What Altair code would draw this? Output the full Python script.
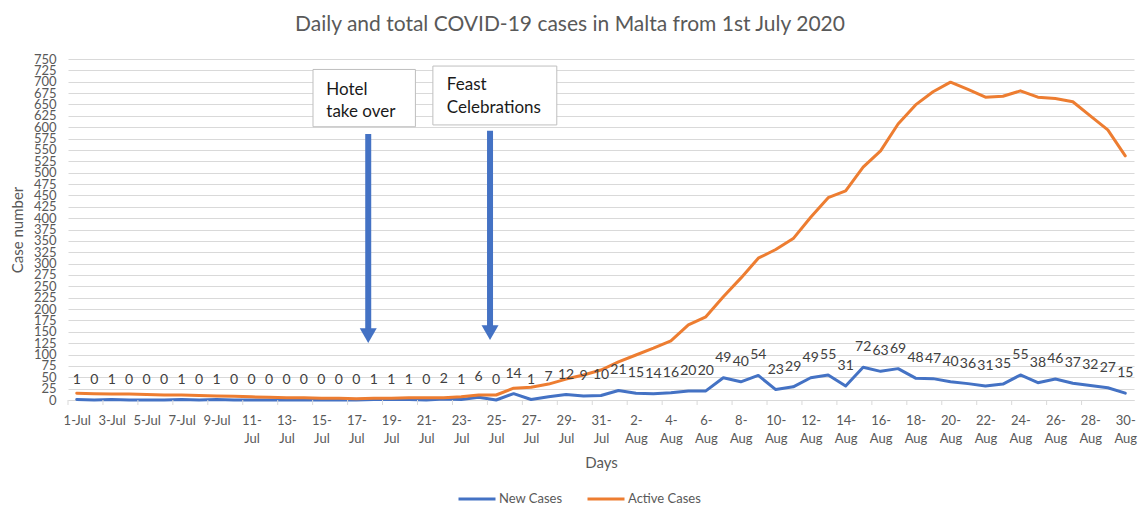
import json
import altair as alt
import pandas as pd

# ---------------- data ----------------
days = ["1-Jul", "2-Jul", "3-Jul", "4-Jul", "5-Jul", "6-Jul", "7-Jul", "8-Jul", "9-Jul", "10-Jul",
        "11-Jul", "12-Jul", "13-Jul", "14-Jul", "15-Jul", "16-Jul", "17-Jul", "18-Jul", "19-Jul", "20-Jul",
        "21-Jul", "22-Jul", "23-Jul", "24-Jul", "25-Jul", "26-Jul", "27-Jul", "28-Jul", "29-Jul", "30-Jul",
        "31-Jul",
        "1-Aug", "2-Aug", "3-Aug", "4-Aug", "5-Aug", "6-Aug", "7-Aug", "8-Aug", "9-Aug", "10-Aug",
        "11-Aug", "12-Aug", "13-Aug", "14-Aug", "15-Aug", "16-Aug", "17-Aug", "18-Aug", "19-Aug", "20-Aug",
        "21-Aug", "22-Aug", "23-Aug", "24-Aug", "25-Aug", "26-Aug", "27-Aug", "28-Aug", "29-Aug", "30-Aug"]

new_cases = [1, 0, 1, 0, 0, 0, 1, 0, 1, 0,
             0, 0, 0, 0, 0, 0, 0, 1, 1, 1,
             0, 2, 1, 6, 0, 14, 1, 7, 12, 9,
             10,
             21, 15, 14, 16, 20, 20, 49, 40, 54,
             23, 29, 49, 55, 31, 72, 63, 69, 48, 47,
             40, 36, 31, 35, 55, 38, 46, 37, 32, 27,
             15]

active_cases = [15, 14, 13, 13, 12, 11, 11, 10, 9, 8,
                7, 6, 5, 5, 4, 4, 3, 4, 4, 5,
                5, 5, 7, 11, 11, 26, 28, 35, 46, 55,
                66,
                84, 99, 114, 130, 165, 183, 227, 268, 312,
                331, 355, 402, 445, 460, 512, 548, 607, 649, 678,
                699, 683, 666, 668, 680, 666, 663, 656, 625, 594,
                537]

series_names = ["New Cases", "Active Cases"]
series_colors = ["#4472C4", "#ED7D31"]

y_tick_values = list(range(0, 751, 25))
x_label_values = list(range(0, 61, 2))
x_tick_values = [v - 0.5 for v in x_label_values[:-1]]

# annotations (data units: x = day index, y = case number)
box_x = [13.52, 20.38]
box_x2 = [19.38, 27.47]
box_y = [727.0, 734.5]
box_y2 = [601.0, 605.0]

note_x = [14.28, 14.28, 21.18, 21.18]
note_y = [682.0, 634.0, 692.0, 642.0]
note_text = ["Hotel", "take over", "Feast", "Celebrations"]

arrow_x = [16.68, 23.65]
arrow_top = [585.0, 592.0]
arrow_bottom = [150.0, 155.0]
arrow_head = [141.6, 148.2]

# ---------------- tables ----------------
wide = pd.DataFrame({"idx": list(range(len(days))), "day": days,
                     "New Cases": new_cases, "Active Cases": active_cases})
long = wide.melt(id_vars=["idx", "day"], value_vars=series_names,
                 var_name="series", value_name="value")

boxes = pd.DataFrame({"x": box_x, "x2": box_x2, "y": box_y, "y2": box_y2})
notes = pd.DataFrame({"x": note_x, "y": note_y, "text": note_text})
arrows = pd.DataFrame({"x": arrow_x, "top": arrow_top, "bottom": arrow_bottom, "head": arrow_head})
ticks = pd.DataFrame({"pos": x_tick_values})

label_lines = []
for i, d in enumerate(days):
    if i < 9:
        label_lines.append([d])
    else:
        k = d.index("-")
        label_lines.append([d[:k + 1], d[k + 1:]])
label_expr = json.dumps(label_lines) + "[datum.value]"

FONT = "Lato"
GRAY = "#595959"

x_scale = alt.Scale(domain=[-0.5, 60.5], nice=False, zero=False)
y_scale = alt.Scale(domain=[0, 750], nice=False)

x_axis = alt.Axis(values=x_label_values, labelExpr=label_expr, ticks=False,
                  grid=False, domainColor="#d9d9d9", labelColor=GRAY,
                  labelFontSize=13, labelFont=FONT, labelLineHeight=18,
                  labelPadding=14, labelFlush=False, labelOverlap=False,
                  labelBound=False, title="Days", titleFont=FONT,
                  titleFontSize=15, titleColor=GRAY, titleFontWeight="normal",
                  titlePadding=10)
y_axis = alt.Axis(values=y_tick_values, labelOverlap=False, ticks=False, tickSize=0,
                  domain=False, gridColor="#d9d9d9", labelColor=GRAY,
                  labelFontSize=13, labelFont=FONT, labelPadding=12,
                  title="Case number", titleFont=FONT, titleFontSize=15,
                  titleColor=GRAY, titleFontWeight="normal", titlePadding=8)


def X(field):
    return alt.X(field, scale=x_scale, axis=x_axis)


def Y(field):
    return alt.Y(field, scale=y_scale, axis=y_axis)


lines = alt.Chart(long).mark_line(strokeWidth=3, strokeCap="round", strokeJoin="round").encode(
    x=X("idx:Q"),
    y=Y("value:Q"),
    color=alt.Color("series:N", sort=series_names,
                    scale=alt.Scale(domain=series_names, range=series_colors),
                    legend=alt.Legend(title=None)),
    order="idx:Q",
)

tick_marks = alt.Chart(ticks).mark_rule(color="#d9d9d9", strokeWidth=1).encode(
    x=X("pos:Q"), y=alt.value(341), y2=alt.value(346))

labels = alt.Chart(wide).mark_text(dy=-20, baseline="middle", fontSize=14, font=FONT,
                                   color="#404040").encode(
    x=X("idx:Q"), y=Y("New Cases:Q"), text="New Cases:Q")

box_marks = alt.Chart(boxes).mark_rect(fill="white", stroke="#bfbfbf", strokeWidth=1).encode(
    x=X("x:Q"), x2="x2:Q", y=Y("y:Q"), y2="y2:Q")

note_marks = alt.Chart(notes).mark_text(align="left", baseline="middle", fontSize=17,
                                        font=FONT, color="#1a1a1a").encode(
    x=X("x:Q"), y=Y("y:Q"), text="text:N")

shafts = alt.Chart(arrows).mark_rule(color="#4472C4", strokeWidth=6).encode(
    x=X("x:Q"), y=Y("top:Q"), y2="bottom:Q")

heads = alt.Chart(arrows).mark_point(shape="triangle-down", filled=True, size=289,
                                     color="#4472C4", opacity=1).encode(
    x=X("x:Q"), y=Y("head:Q"))

chart = alt.layer(lines, tick_marks, labels, box_marks, note_marks, shafts, heads).properties(
    width=1066, height=341,
    padding={"left": 60, "top": 51, "right": 4, "bottom": 106},
    autosize=alt.AutoSizeParams(type="none"),
    title=alt.TitleParams("Daily and total COVID-19 cases in Malta from 1st July 2020",
                          font=FONT, fontSize=21, color=GRAY, fontWeight="normal",
                          anchor="middle", dx=-31, offset=18, frame="group"),
    background="white",
).configure_view(stroke=None).configure_legend(
    orient="none", legendX=389, legendY=420, direction="horizontal",
    symbolType="stroke", symbolSize=1369, symbolStrokeWidth=3,
    labelFontSize=13, labelFont=FONT, labelColor=GRAY, columnPadding=18, labelOffset=2,
)

chart.save("out.html", embed_options={"renderer": "svg", "actions": False})
